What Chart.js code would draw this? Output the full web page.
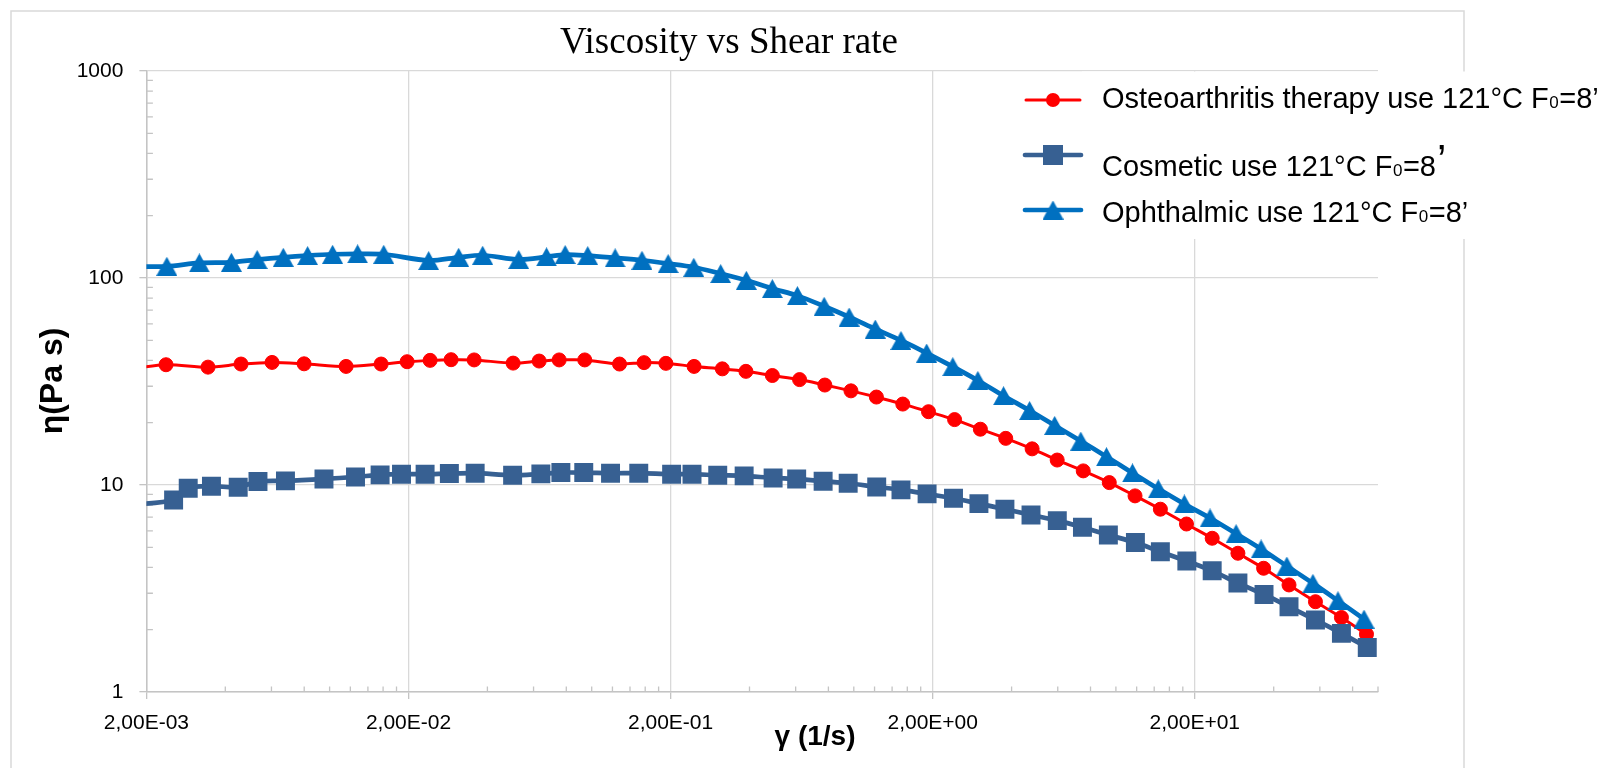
<!DOCTYPE html>
<html>
<head>
<meta charset="utf-8">
<title>Viscosity vs Shear rate</title>
<script src="https://cdn.jsdelivr.net/npm/chart.js@4.4.0/dist/chart.umd.min.js"></script>
<style>
  html, body { margin: 0; padding: 0; background: #ffffff; }
  #wrap { width: 1607px; height: 768px; position: relative; }
  canvas { display: block; }
</style>
</head>
<body>
<div id="wrap"><canvas id="chart" width="1607" height="768"></canvas></div>
<script>
// ---- axis ticks ----
const xTicks = [0.002, 0.02, 0.2, 2, 20];
const xTickLabels = ['2,00E-03', '2,00E-02', '2,00E-01', '2,00E+00', '2,00E+01'];
const yTicks = [1, 10, 100, 1000];
const yTickLabels = ['1', '10', '100', '1000'];

// ---- shear rate (1/s) and viscosity (Pa s) per sample ----
const osteoShear = [0.0017, 0.002376, 0.003436, 0.004592, 0.006032, 0.007992, 0.011558, 0.015722, 0.019756, 0.02418,
  0.02908, 0.0356, 0.05014, 0.06302, 0.07514, 0.09408, 0.1277, 0.1584, 0.1919, 0.2458,
  0.315, 0.3876, 0.489, 0.621, 0.7754, 0.9754, 1.2196, 1.5378, 1.9276, 2.424,
  3.04, 3.799, 4.79, 5.97, 7.506, 9.436, 11.83, 14.78, 18.59, 23.30,
  29.21, 36.61, 45.76, 57.73, 72.52, 90.37];
const osteoVisc = [36.2, 38.1, 37.1, 38.4, 39.1, 38.5, 37.4, 38.4, 39.4, 40.0,
  40.3, 40.2, 38.8, 39.7, 40.2, 40.2, 38.4, 39.0, 38.7, 37.4,
  36.4, 35.4, 33.8, 32.3, 30.4, 28.5, 26.6, 24.6, 22.6, 20.7,
  18.6, 16.8, 14.95, 13.2, 11.7, 10.27, 8.86, 7.64, 6.48, 5.53,
  4.68, 3.96, 3.29, 2.73, 2.29, 1.90];

const cosmeticShear = [0.0017, 0.00254, 0.002888, 0.003542, 0.00448, 0.00533, 0.006786, 0.009518, 0.012556, 0.015584,
  0.018808, 0.02314, 0.02864, 0.03592, 0.04992, 0.06398, 0.07628, 0.09326, 0.118, 0.1512,
  0.2018, 0.2414, 0.3026, 0.3816, 0.4922, 0.6054, 0.7638, 0.9518, 1.223, 1.5136,
  1.9038, 2.401, 3.002, 3.772, 4.744, 5.976, 7.454, 9.36, 11.87, 14.78,
  18.65, 23.30, 29.21, 36.74, 45.76, 57.73, 72.52, 91.0];
const cosmeticVisc = [8.0, 8.47, 9.65, 9.87, 9.76, 10.39, 10.47, 10.70, 10.94, 11.19,
  11.28, 11.28, 11.36, 11.40, 11.15, 11.32, 11.48, 11.48, 11.40, 11.40,
  11.28, 11.28, 11.15, 11.07, 10.82, 10.70, 10.43, 10.20, 9.79, 9.47,
  9.06, 8.63, 8.13, 7.64, 7.17, 6.73, 6.25, 5.74, 5.27, 4.76,
  4.29, 3.85, 3.36, 2.96, 2.58, 2.23, 1.92, 1.64];

const ophthalmicShear = [0.0017, 0.002393, 0.003184, 0.00422, 0.005292, 0.006656, 0.00824, 0.010264, 0.012786, 0.016086,
  0.02388, 0.03108, 0.03836, 0.05268, 0.06726, 0.0792, 0.09654, 0.1229, 0.1555, 0.1957,
  0.2452, 0.3104, 0.389, 0.489, 0.6092, 0.7706, 0.9602, 1.2076, 1.5136, 1.897,
  2.386, 2.973, 3.726, 4.686, 5.84, 7.344, 9.206, 11.57, 14.51, 18.24,
  22.86, 28.75, 35.81, 44.89, 56.46, 70.36, 88.47];
const ophthalmicVisc = [113.4, 113.9, 118.3, 119.1, 122.8, 125.9, 128.3, 130.2, 130.8, 130.2,
  121.4, 125.9, 128.8, 122.8, 126.5, 129.8, 128.3, 125.1, 121.8, 117.4,
  112.7, 105.0, 97.5, 88.9, 82.2, 73.0, 64.8, 56.7, 49.9, 43.4,
  37.3, 32.0, 27.0, 22.9, 19.4, 16.3, 13.7, 11.44, 9.58, 8.10,
  6.93, 5.82, 4.91, 4.06, 3.35, 2.76, 2.25];

// ---- legend labels: text, subscript, tail, raised mark ----
const legendLabels = [
  ['Osteoarthritis therapy use 121°C F', '0', '=8’', ''],
  ['Cosmetic use 121°C F', '0', '=8', '’'],
  ['Ophthalmic use 121°C F', '0', '=8’', '']
];
const chartTitle = 'Viscosity vs Shear rate';
const xTitle = 'γ (1/s)';
const yTitle = 'η(Pa s)';

// ---- styling ----
const RED = '#FF0000';
const NAVY = '#376092';
const BLUE = '#0070C0';
const GRID = '#d9d9d9';
const AXIS = '#c4c4c4';
const SANS = "'Liberation Sans', Arial, sans-serif";

function toPoints(xs, ys) {
  return xs.map((x, i) => ({ x: x, y: ys[i] }));
}

// triangle marker centred on its bounding box
function makeTriangle(w, h, color) {
  const c = document.createElement('canvas');
  c.width = w; c.height = h;
  const g = c.getContext('2d');
  g.fillStyle = color;
  g.beginPath();
  g.moveTo(w / 2, 0);
  g.lineTo(w, h);
  g.lineTo(0, h);
  g.closePath();
  g.fill();
  return c;
}
const triangleMarker = makeTriangle(21, 19, BLUE);

// minor tick positions: 2..9 times each decade start
const xMinor = xTicks.flatMap(t => [2, 3, 4, 5, 6, 7, 8, 9].map(k => t * k)).filter(v => v <= 100.0001);
const yMinor = [1, 10, 100].flatMap(t => [2, 3, 4, 5, 6, 7, 8, 9].map(k => t * k));

const frameAndMinorTicks = {
  id: 'frameAndMinorTicks',
  beforeDraw(chart) {
    const ctx = chart.ctx;
    ctx.save();
    ctx.fillStyle = '#ffffff';
    ctx.fillRect(0, 0, chart.width, chart.height);
    ctx.strokeStyle = GRID;
    ctx.lineWidth = 1.5;
    ctx.strokeRect(11, 11, 1453, 820);
    ctx.restore();
  },
  beforeDatasetsDraw(chart) {
    const { ctx, chartArea, scales } = chart;
    ctx.save();
    ctx.strokeStyle = AXIS;
    ctx.lineWidth = 1.3;
    ctx.beginPath();
    xMinor.forEach(v => {
      const px = scales.x.getPixelForValue(v);
      ctx.moveTo(px, chartArea.bottom);
      ctx.lineTo(px, chartArea.bottom - 5.5);
    });
    yMinor.forEach(v => {
      const py = scales.y.getPixelForValue(v);
      ctx.moveTo(chartArea.left, py);
      ctx.lineTo(chartArea.left + 6.5, py);
    });
    ctx.stroke();
    ctx.restore();
  }
};

function drawLegendMarker(ctx, i, cx, cy) {
  ctx.save();
  ctx.lineCap = 'round';
  if (i === 0) {
    ctx.strokeStyle = RED; ctx.lineWidth = 3;
    ctx.beginPath(); ctx.moveTo(cx - 27, cy); ctx.lineTo(cx + 27, cy); ctx.stroke();
    ctx.fillStyle = RED;
    ctx.beginPath(); ctx.arc(cx, cy, 7, 0, Math.PI * 2); ctx.fill();
  } else if (i === 1) {
    ctx.strokeStyle = NAVY; ctx.lineWidth = 4.7;
    ctx.beginPath(); ctx.moveTo(cx - 28, cy); ctx.lineTo(cx + 28, cy); ctx.stroke();
    ctx.fillStyle = NAVY;
    ctx.fillRect(cx - 10, cy - 10, 20, 20);
  } else {
    ctx.strokeStyle = BLUE; ctx.lineWidth = 4.7;
    ctx.beginPath(); ctx.moveTo(cx - 28, cy); ctx.lineTo(cx + 28, cy); ctx.stroke();
    ctx.drawImage(triangleMarker, cx - triangleMarker.width / 2, cy - triangleMarker.height / 2);
  }
  ctx.restore();
}

const textLayer = {
  id: 'textLayer',
  afterDraw(chart) {
    const ctx = chart.ctx;
    ctx.save();
    // title
    ctx.fillStyle = '#000000';
    ctx.font = "37px 'Liberation Serif', 'Times New Roman', serif";
    ctx.textAlign = 'center';
    ctx.textBaseline = 'alphabetic';
    ctx.fillText(chartTitle, 729, 53);

    // axis titles
    ctx.font = 'bold 28px ' + SANS;
    ctx.fillText(xTitle, 815, 745);
    ctx.save();
    ctx.translate(53, 381);
    ctx.rotate(-Math.PI / 2);
    ctx.font = 'bold 32px ' + SANS;
    ctx.textBaseline = 'middle';
    ctx.fillText(yTitle, 0, 0);
    ctx.restore();

    // legend panel
    ctx.fillStyle = '#ffffff';
    ctx.fillRect(1082, 71.5, 525, 167.5);
    const markerY = [100, 155, 210];
    const textBase = [108.3, 175.5, 221.7];
    ctx.textAlign = 'left';
    ctx.textBaseline = 'alphabetic';
    legendLabels.forEach((parts, i) => {
      drawLegendMarker(ctx, i, 1053, markerY[i]);
      let x = 1102;
      const y = textBase[i];
      ctx.fillStyle = '#000000';
      ctx.font = '29px ' + SANS;
      ctx.fillText(parts[0], x, y);
      x += ctx.measureText(parts[0]).width;
      ctx.font = '17px ' + SANS;
      ctx.fillText(parts[1], x + 0.5, y);
      x += ctx.measureText(parts[1]).width + 1;
      ctx.font = '29px ' + SANS;
      ctx.fillText(parts[2], x, y);
      x += ctx.measureText(parts[2]).width;
      if (parts[3]) {
        ctx.font = '42px ' + SANS;
        ctx.fillText(parts[3], x + 1, y - 2);
      }
    });
    ctx.restore();
  }
};

const lineClip = { left: 0, top: false, right: false, bottom: false };

new Chart(document.getElementById('chart'), {
  type: 'line',
  data: {
    datasets: [
      {
        label: legendLabels[0].join(''),
        data: toPoints(osteoShear, osteoVisc),
        borderColor: RED,
        backgroundColor: RED,
        borderWidth: 3,
        pointStyle: 'circle',
        pointRadius: 7,
        pointBorderWidth: 1,
        pointBorderColor: RED,
        pointBackgroundColor: RED,
        tension: 0.3,
        borderCapStyle: 'round',
        borderJoinStyle: 'round',
        clip: lineClip,
        order: 3
      },
      {
        label: legendLabels[1].join(''),
        data: toPoints(cosmeticShear, cosmeticVisc),
        borderColor: NAVY,
        backgroundColor: NAVY,
        borderWidth: 4.7,
        pointStyle: 'rect',
        pointRadius: 13.4,
        pointBorderWidth: 0,
        pointBackgroundColor: NAVY,
        tension: 0.3,
        borderCapStyle: 'round',
        borderJoinStyle: 'round',
        clip: lineClip,
        order: 2
      },
      {
        label: legendLabels[2].join(''),
        data: toPoints(ophthalmicShear, ophthalmicVisc),
        borderColor: BLUE,
        backgroundColor: BLUE,
        borderWidth: 4.7,
        pointStyle: triangleMarker,
        pointRadius: 10,
        tension: 0.3,
        borderCapStyle: 'round',
        borderJoinStyle: 'round',
        clip: lineClip,
        order: 1
      }
    ]
  },
  options: {
    responsive: false,
    animation: false,
    events: [],
    layout: { padding: { left: 0, top: 71, right: 229, bottom: 0 } },
    plugins: {
      legend: { display: false },
      title: { display: false },
      tooltip: { enabled: false }
    },
    scales: {
      x: {
        type: 'logarithmic',
        position: 'bottom',
        min: 0.002,
        max: 100,
        afterBuildTicks: (scale) => { scale.ticks = xTicks.map(v => ({ value: v })); },
        afterFit: (scale) => { scale.height = 76; },
        ticks: {
          autoSkip: false,
          maxRotation: 0,
          padding: 12,
          color: '#000000',
          font: { family: SANS, size: 21, lineHeight: 1.2 },
          callback: (v) => { const i = xTicks.indexOf(v); return i >= 0 ? xTickLabels[i] : ''; }
        },
        grid: { color: GRID, lineWidth: 1.3, tickLength: 7, tickColor: AXIS, drawTicks: true },
        border: { color: AXIS, width: 1.5 }
      },
      y: {
        type: 'logarithmic',
        position: 'left',
        min: 1,
        max: 1000,
        afterBuildTicks: (scale) => { scale.ticks = yTicks.map(v => ({ value: v })); },
        afterFit: (scale) => { scale.width = 146.4; },
        ticks: {
          autoSkip: false,
          padding: 16,
          color: '#000000',
          font: { family: SANS, size: 21, lineHeight: 1.2 },
          callback: (v) => { const i = yTicks.indexOf(v); return i >= 0 ? yTickLabels[i] : ''; }
        },
        grid: { color: GRID, lineWidth: 1.3, tickLength: 7, tickColor: AXIS, drawTicks: true },
        border: { color: AXIS, width: 1.5 }
      }
    }
  },
  plugins: [frameAndMinorTicks, textLayer]
});
</script>
</body>
</html>
